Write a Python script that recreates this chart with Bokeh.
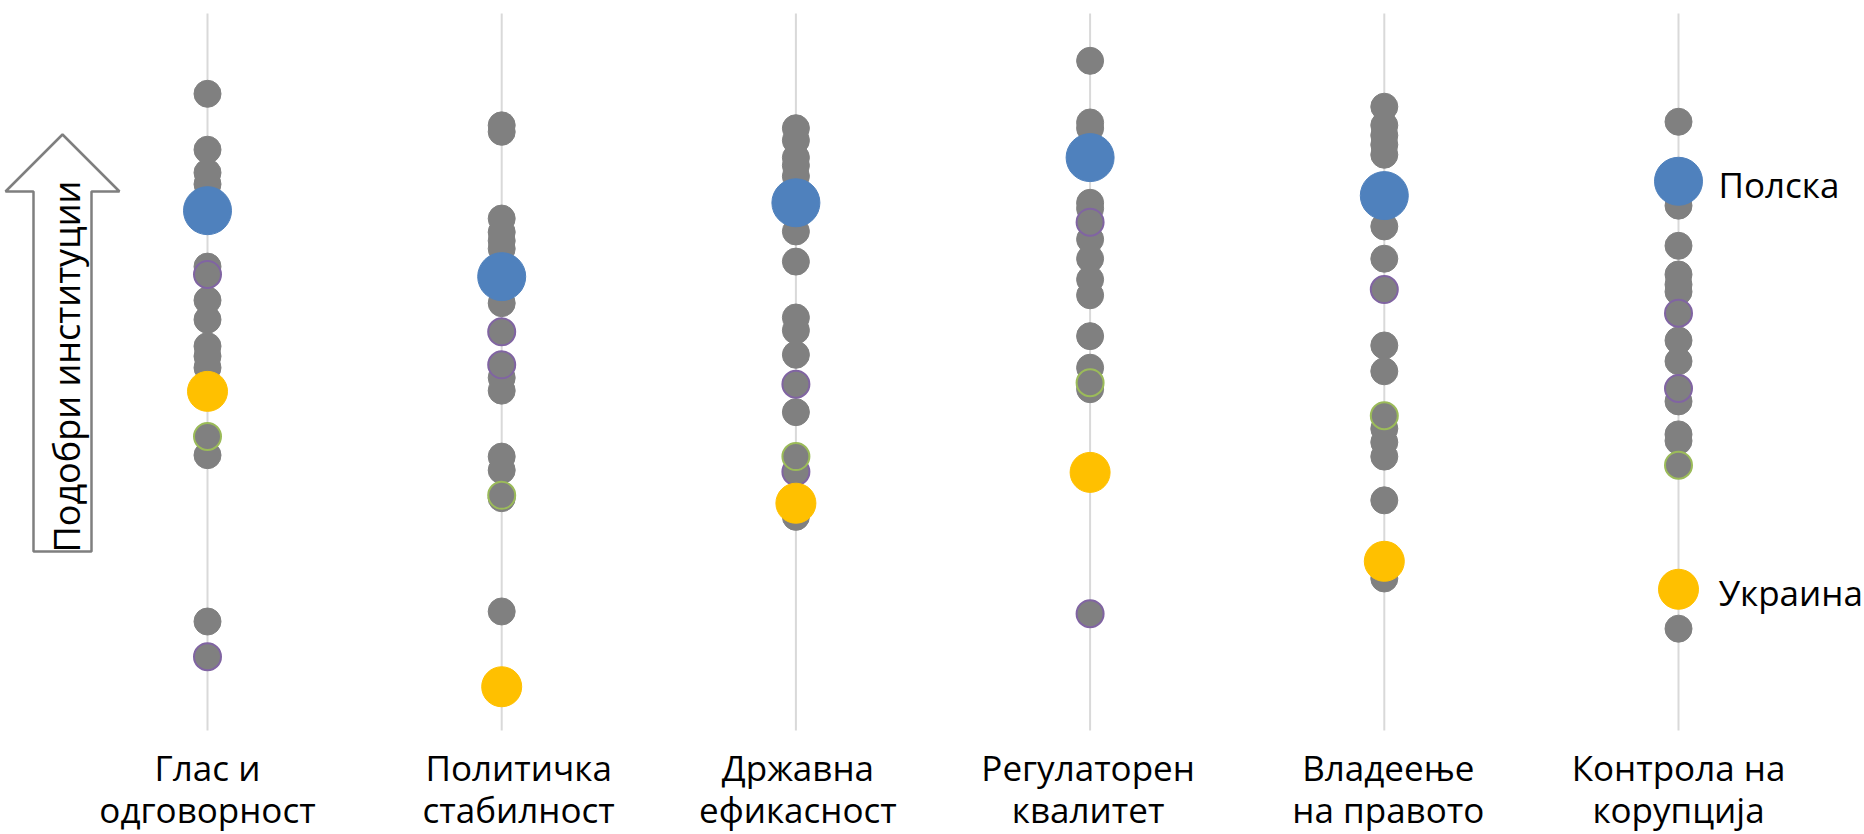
import math
from bokeh.plotting import figure
from bokeh.models import Range1d
from bokeh.core.properties import value
from bokeh.embed import file_html
from bokeh.resources import INLINE

# ---------------- data ----------------
categories = ["Глас и\nодговорност", "Политичка\nстабилност", "Државна\nефикасност",
              "Регулаторен\nквалитет", "Владеење\nна правото", "Контрола на\nкорупција"]

others = [
    [88.8, 81.0, 77.8, 76.2, 64.7, 60.0, 57.3, 53.6, 52.2, 50.6, 46.6, 38.4, 15.2],
    [84.4, 83.5, 71.4, 69.5, 68.3, 67.2, 59.6, 49.2, 47.4, 38.2, 36.3, 32.4, 16.6],
    [84.0, 82.3, 79.9, 78.8, 77.3, 69.6, 65.4, 57.6, 55.8, 52.4, 44.4, 29.8],
    [93.4, 84.8, 84.0, 73.6, 72.8, 68.5, 65.8, 62.9, 60.7, 55.0, 50.6, 47.6],
    [87.0, 84.4, 83.0, 81.7, 80.3, 70.3, 65.8, 53.7, 50.1, 42.1, 40.2, 38.2, 32.1, 21.2],
    [84.9, 73.2, 67.6, 63.6, 62.2, 61.2, 54.4, 51.5, 45.9, 41.3, 40.4, 14.2],
]
purple_marked = [[63.6, 10.3], [55.6, 51.0], [48.3, 36.1], [70.9, 16.3], [61.5], [58.2, 47.7]]
green_marked = [[41.0], [32.8], [38.2], [48.5], [43.9], [37.0]]
poland = [72.5, 63.3, 73.6, 79.9, 74.6, 76.6]
ukraine = [47.3, 6.1, 31.7, 36.0, 23.6, 19.7]
series_labels = ["Полска", "Украина"]
arrow_label = "Подобри институции"

# ---------------- layout helpers (decoration only) ----------------
W, H = 1864, 834
X0, DX = 207.0, 294.2          # page px of first category, spacing
YB, YT = 730.0, 13.0           # page px of plot-area bottom/top
label_shift = [0, 17, 2, -2, 4, 0]   # small horizontal nudges of category labels (px)


def px2x(px):
    return (px - X0) / DX


def px2y(py):
    return (YB - py) / (YB - YT) * 100.0


def flat(nested):
    xs, ys = [], []
    for i, vals in enumerate(nested):
        for v in vals:
            xs.append(i)
            ys.append(v)
    return xs, ys


FONT = value("Open Sans")
FS = "35px"

p = figure(width=W, height=H, output_backend="svg", toolbar_location=None,
           x_range=Range1d(px2x(0), px2x(W)), y_range=Range1d(px2y(H), px2y(0)),
           min_border=0, min_border_left=0, min_border_right=0,
           min_border_top=0, min_border_bottom=0)
p.outline_line_color = None
p.background_fill_color = "white"
p.border_fill_color = "white"
p.xaxis.visible = False
p.yaxis.visible = False
p.xgrid.visible = False
p.ygrid.visible = False

ticks = list(range(len(categories)))

# vertical category guide lines
p.segment(x0=ticks, y0=[0] * len(ticks), x1=ticks, y1=[100] * len(ticks),
          line_color="#D9D9D9", line_width=2)

# category labels (two lines each)
line1 = [c.split("\n")[0] for c in categories]
line2 = [c.split("\n")[1] for c in categories]
p.text(x=ticks, y=[px2y(767)] * len(ticks), text=line1, x_offset=label_shift,
       text_align="center", text_baseline="alphabetic", text_font=FONT,
       text_font_size=FS, text_color="#000000")
p.text(x=ticks, y=[px2y(809)] * len(ticks), text=line2, x_offset=label_shift,
       text_align="center", text_baseline="alphabetic", text_font=FONT,
       text_font_size=FS, text_color="#000000")

# arrow decoration
ax = [62, 119, 91, 91, 33, 33, 5]
ay = [134, 191, 191, 551, 551, 191, 191]
p.patch([px2x(v) for v in ax], [px2y(v) for v in ay], fill_color="white",
        line_color="#7F7F7F", line_width=2.5)
p.text(x=[px2x(66)], y=[px2y(366)], text=[arrow_label], angle=math.pi / 2,
       text_align="center", text_baseline="middle", text_font=FONT,
       text_font_size="36px", text_color="#000000")

gx, gy = flat(others)
p.scatter(gx, gy, size=27, fill_color="#808080", line_color="#808080", line_width=1)
px_, py_ = flat(purple_marked)
p.scatter(px_, py_, size=27, fill_color="#808080", line_color="#8064A2", line_width=2)
qx, qy = flat(green_marked)
p.scatter(qx, qy, size=27, fill_color="#808080", line_color="#9BBB59", line_width=2)

p.scatter(ticks, poland, size=48, fill_color="#4F81BD", line_color="#4F81BD")
p.scatter(ticks, ukraine, size=40, fill_color="#FFC000", line_color="#FFC000")

last = len(categories) - 1
p.text(x=[last, last], y=[poland[last], ukraine[last]], text=series_labels,
       x_offset=40, y_offset=3, text_align="left", text_baseline="alphabetic",
       text_font=FONT, text_font_size=FS, text_color="#000000")

open("out.html", "w").write(file_html(p, INLINE))
